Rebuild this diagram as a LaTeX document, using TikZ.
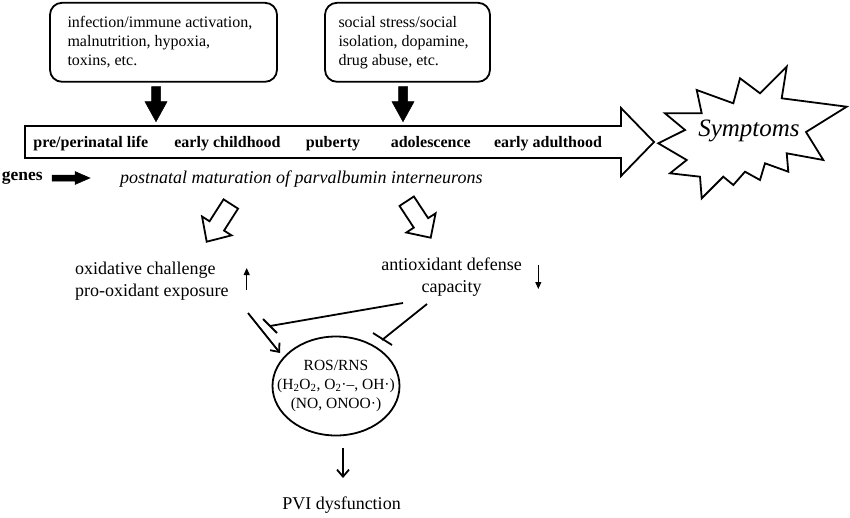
\documentclass[tikz,border=0pt]{standalone}
\usepackage{fontspec}
\setmainfont{Liberation Serif}
\usetikzlibrary{arrows.meta,shapes.geometric,calc}
\begin{document}
\begin{tikzpicture}[x=1pt,y=-1pt,
  thickline/.style={line width=1.8pt},
  boxnode/.style={draw,line width=1.8pt,rounded corners=12pt,align=flush left,minimum height=79pt,inner ysep=0pt,font=\fontsize{16}{19}\selectfont},
  stagelabel/.style={inner sep=0pt,anchor=base,font=\fontsize{16}{19}\selectfont\bfseries},
  bodytext/.style={inner sep=0pt,font=\fontsize{18}{22}\selectfont},
  blackarrow/.style={fill=black,draw=black,line width=0.5pt,line join=miter},
  hollowarrow/.style={draw=black,fill=white,line width=1.8pt,line join=miter},
  actarrow/.style={line width=1.8pt,-{Straight Barb[length=7pt,width=12pt]}},
  smallarrow/.style={line width=0.9pt,-{Triangle[length=7pt,width=6pt]}},
  inhib/.style={line width=1.8pt},
]
\useasboundingbox (0,0) rectangle (850,517);

% influence boxes
\node[boxnode,text width=192pt,inner xsep=17.5pt] (box1) at (163.5,42.3) {infection/immune activation,\\ malnutrition, hypoxia,\\ toxins, etc.};
\node[boxnode,text width=138pt,inner xsep=13.5pt] (box2) at (407.5,42.3) {social stress/social\\ isolation, dopamine,\\ drug abuse, etc.};

% black arrows from boxes
\path[blackarrow] (151.5,86.7) -- (160.5,86.7) -- (160.5,101.7) -- (167,101.7) -- (156,121.7) -- (145,101.7) -- (151.5,101.7) -- cycle;
\path[blackarrow] (398.5,86.7) -- (407.5,86.7) -- (407.5,101.7) -- (414,101.7) -- (403,121.7) -- (392,101.7) -- (398.5,101.7) -- cycle;

% big time arrow
\draw[thickline,line join=miter] (25,126) -- (621,126) -- (621,108) -- (654,142) -- (621,176) -- (621,158) -- (25,158) -- cycle;
\node[stagelabel] (s1) at (90.8,147.5) {pre/perinatal life};
\node[stagelabel] (s2) at (227.5,147.5) {early childhood};
\node[stagelabel] (s3) at (333,147.5) {puberty};
\node[stagelabel] (s4) at (430.8,147.5) {adolescence};
\node[stagelabel] (s5) at (548,147.5) {early adulthood};

% symptoms star
\draw[thickline,line join=miter,fill=white] (658.3,143.3) -- (685,130) -- (665,113.3) -- (701.7,113.3) -- (696.7,90) -- (733.3,103.3) -- (740,78.3) -- (760,93.3) -- (786.7,66.7) -- (781.7,98.3) -- (846.7,106.7) -- (806,132) -- (823.3,160) -- (786.7,153.3) -- (788.3,171.7) -- (765,163.3) -- (760,180) -- (745,171.7) -- (733.3,185) -- (723.3,176.7) -- (701.7,198.3) -- (700,176.7) -- (670,173.3) -- (686.7,160) -- cycle;
\node[inner sep=0pt,font=\fontsize{25}{30}\selectfont\itshape] (symp) at (749,131) {Symptoms};

% genes
\node[inner sep=0pt,anchor=west,font=\fontsize{17.5}{21}\selectfont\bfseries] (genes) at (1.7,178) {genes};
\path[blackarrow] (52,175) -- (75,175) -- (75,171.5) -- (90,178) -- (75,184.5) -- (75,181) -- (52,181) -- cycle;
\node[inner sep=0pt,anchor=west,font=\fontsize{18}{22}\selectfont\itshape] (pvm) at (120,179) {postnatal maturation of parvalbumin interneurons};

% hollow arrows
\draw[hollowarrow] (223.55,199.36) -- (209.54,221.28) -- (202.04,216.49) -- (206.7,241.7) -- (231.54,235.35) -- (224.04,230.56) -- (238.05,208.64) -- cycle;
\draw[hollowarrow] (413.88,196.48) -- (428.15,218.19) -- (435.58,213.30) -- (430.7,237.7) -- (406.36,232.52) -- (413.79,227.63) -- (399.52,205.92) -- cycle;

% oxidative / antioxidant
\node[bodytext,align=left,anchor=west] (oxi) at (75,281) {oxidative challenge\\ pro-oxidant exposure};
\node[bodytext,align=center] (anti) at (451.5,277) {antioxidant defense\\ capacity};
\coordinate (upS) at (246.7,290);
\coordinate (upE) at (246.7,268);
\draw[smallarrow] (upS) -- (upE);
\coordinate (dnS) at (538.3,265);
\coordinate (dnE) at (538.3,289);
\draw[smallarrow] (dnS) -- (dnE);

% ROS ellipse
\node[draw,ellipse,thickline,minimum width=127pt,minimum height=99pt,inner sep=0pt] (ros) at (336,386) {};
\node[inner sep=0pt,align=center,font=\fontsize{15.5}{19}\selectfont] (rostext) at (ros.center) {ROS/RNS\\ (H\textsubscript{2}O\textsubscript{2}, O\textsubscript{2}·–, OH·)\\ (NO, ONOO·)};

% connectors
\coordinate (oxiA) at (248,313);
\coordinate (rosA) at (280,353);
\draw[actarrow] (oxiA) -- (rosA);

\coordinate (antiA) at (403,303);
\coordinate (bar1) at (270,326);
\draw[inhib] (antiA) -- (bar1);
\draw[inhib] (263,319) -- (277,333);

\coordinate (antiB) at (427,304);
\coordinate (bar2) at (382,340);
\draw[inhib] (antiB) -- (bar2);
\draw[inhib] (373,333) -- (392,345);

\node[bodytext] (pvi) at (341.5,505) {PVI dysfunction};
\coordinate (rosB) at (343,448);
\coordinate (pviA) at (343,478);
\draw[actarrow] (rosB) -- (pviA);
\end{tikzpicture}
\end{document}
